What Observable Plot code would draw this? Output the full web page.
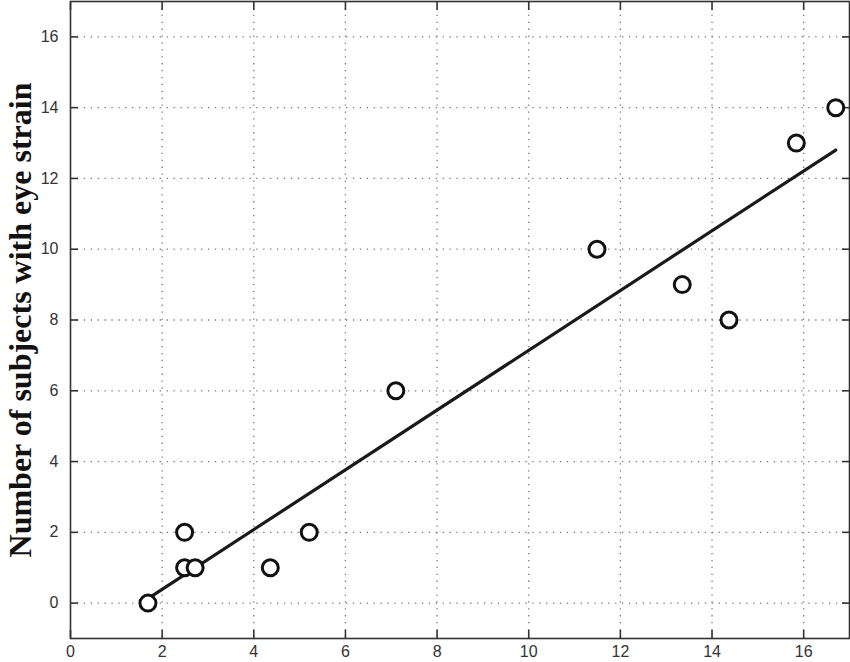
<!DOCTYPE html>
<html>
<head>
<meta charset="utf-8">
<script src="https://cdn.jsdelivr.net/npm/d3@7"></script>
<script src="https://cdn.jsdelivr.net/npm/@observablehq/plot@0.6"></script>
<style>
  html, body { margin: 0; padding: 0; background: #fff; }
  #chart svg { display: block; }
  #chart svg g[aria-label$="tick label"] text { font-size: 16px !important; }
</style>
</head>
<body>
<div id="chart"></div>
<script>
// Data
const xValues = [1.69, 2.49, 2.72, 2.49, 4.36, 5.21, 7.10, 11.49, 13.35, 14.37, 15.84, 16.70];
const yValues = [0, 1, 1, 2, 1, 2, 6, 10, 9, 8, 13, 14];
const xTicks = [0, 2, 4, 6, 8, 10, 12, 14, 16];
const yTicks = [0, 2, 4, 6, 8, 10, 12, 14, 16];
const yLabel = "Number of subjects with eye strain";

const points = xValues.map((x, i) => ({x, y: yValues[i]}));

const tickFont = "'Liberation Sans', Arial, Helvetica, sans-serif";
const gridStyle = {stroke: "#777", strokeOpacity: 1, strokeWidth: 1.3, strokeDasharray: "1.3,5.6"};

const chart = Plot.plot({
  width: 850,
  height: 662,
  marginLeft: 70,
  marginRight: 1,
  marginTop: 1,
  marginBottom: 24,
  style: {fontFamily: tickFont, fontSize: "16px", color: "#333", background: "#fff"},
  x: {domain: [0, 17]},
  y: {domain: [-1, 17]},
  marks: [
    Plot.gridX(xTicks.slice(1), gridStyle),
    Plot.gridY(yTicks, gridStyle),
    Plot.frame({stroke: "#333", strokeWidth: 1.6}),
    Plot.axisX(xTicks, {anchor: "bottom", tickSize: -8, tickPadding: 15, label: null, stroke: "#333", strokeWidth: 1.6, fill: "#333", fontSize: 16}),
    Plot.axisX(xTicks, {anchor: "top", tickSize: -8, text: null, label: null, stroke: "#333", strokeWidth: 1.6}),
    Plot.axisY(yTicks, {anchor: "left", tickSize: -8, tickPadding: 20, label: null, stroke: "#333", strokeWidth: 1.6, fill: "#333", fontSize: 16}),
    Plot.axisY(yTicks, {anchor: "right", tickSize: -8, text: null, label: null, stroke: "#333", strokeWidth: 1.6}),
    Plot.linearRegressionY(points, {x: "x", y: "y", ci: 0, stroke: "#1a1a1a", strokeWidth: 3.2}),
    Plot.dot(points, {x: "x", y: "y", r: 8, fill: "white", stroke: "#111", strokeWidth: 3}),
    Plot.text([yLabel], {
      ariaLabel: "ylabel",
      frameAnchor: "left",
      text: d => d,
      textAnchor: "middle",
      lineAnchor: "middle",
      rotate: -90,
      dx: -50,
      dy: 0,
      fontFamily: "'Liberation Serif', 'Times New Roman', serif",
      fontWeight: "bold",
      fontSize: 32,
      fill: "#111"
    })
  ]
});

// stretch the y-axis title glyphs vertically (horizontally once rotated), as in the reference
d3.select(chart).selectAll('g[aria-label="ylabel"] text').each(function() {
  const t = this.getAttribute("transform") || "";
  this.setAttribute("transform", t + " scale(1,1.3)");
});

document.getElementById("chart").appendChild(chart);
</script>
</body>
</html>
